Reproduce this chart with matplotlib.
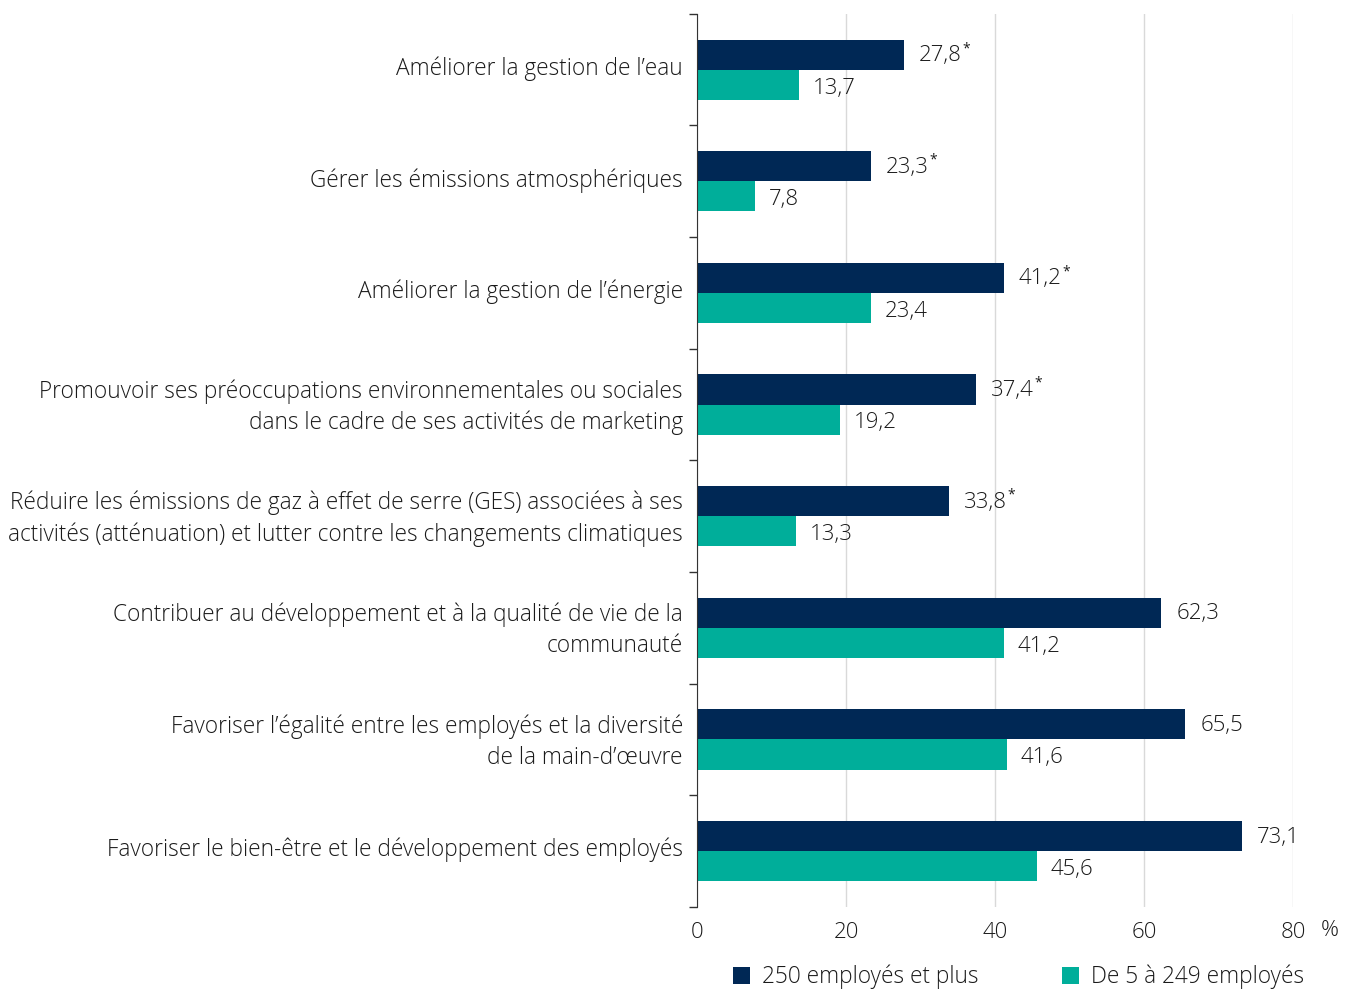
import matplotlib.pyplot as plt
import matplotlib.transforms as mtransforms
import numpy as np

plt.rcParams['font.family'] = ['Open Sans', 'DejaVu Sans']
plt.rcParams['font.weight'] = 'light'

categories = [
    "Améliorer la gestion de l’eau",
    "Gérer les émissions atmosphériques",
    "Améliorer la gestion de l’énergie",
    "Promouvoir ses préoccupations environnementales ou sociales\ndans le cadre de ses activités de marketing",
    "Réduire les émissions de gaz à effet de serre (GES) associées à ses\nactivités (atténuation) et lutter contre les changements climatiques",
    "Contribuer au développement et à la qualité de vie de la\ncommunauté",
    "Favoriser l’égalité entre les employés et la diversité\nde la main-d’œuvre",
    "Favoriser le bien-être et le développement des employés",
]
large = [27.8, 23.3, 41.2, 37.4, 33.8, 62.3, 65.5, 73.1]
small = [13.7, 7.8, 23.4, 19.2, 13.3, 41.2, 41.6, 45.6]
significant = [True, True, True, True, True, False, False, False]
series_names = ["250 employés et plus", "De 5 à 249 employés"]

navy = "#002855"
teal = "#00AE9A"
txt = "#1a1a1a"

fig = plt.figure(figsize=(13.53, 9.9), dpi=100)
ax = fig.add_axes([0.515, 0.084, 0.441, 0.902])

y = np.arange(len(categories))
h = 0.27
b1 = ax.barh(y - h / 2, large, height=h, color=navy, label=series_names[0], zorder=3)
b2 = ax.barh(y + h / 2, small, height=h, color=teal, label=series_names[1], zorder=3)

def fmt(v):
    return f"{v:.1f}".replace(".", ",")

for yi, v, s in zip(y, large, significant):
    t = ax.text(v + 2.0, yi - h / 2 + 0.01, fmt(v), va="center", ha="left", fontsize=16, color=txt)
    if s:
        ax.annotate("*", xy=(1, 1), xycoords=t, xytext=(0.5, 3), textcoords="offset points",
                    ha="left", va="top", fontsize=10, color=txt, fontweight="normal")
for yi, v in zip(y, small):
    ax.text(v + 1.8, yi + h / 2 + 0.03, fmt(v), va="center", ha="left", fontsize=16, color=txt)

ax.set_ylim(len(categories) - 0.5, -0.5)
ax.set_xlim(0, 80)
ax.set_yticks(y)
ax.set_yticklabels(categories, fontsize=16.25, color=txt, ha="right", linespacing=1.4)
ax.tick_params(axis="y", which="major", length=0, pad=10)
shift = mtransforms.ScaledTranslation(0, 4 / 100, fig.dpi_scale_trans)
for lab in ax.get_yticklabels():
    lab.set_transform(lab.get_transform() + shift)
ax.set_yticks(np.arange(-0.5, len(categories)), minor=True)
ax.tick_params(axis="y", which="minor", length=6, width=1, color="#333333", direction="out")

ax.set_xticks([0, 20, 40, 60, 80])
ax.set_xticklabels(["0", "20", "40", "60", "80"], fontsize=16, color=txt)
ax.tick_params(axis="x", length=0, pad=11)
trans = mtransforms.blended_transform_factory(ax.transData, ax.transAxes)
ax.text(83.7, -0.0265, "%", transform=trans, fontsize=16, color=txt,
        ha="left", va="center")

ax.grid(axis="x", color="#d9d9d9", linewidth=1, zorder=0)
for s in ["top", "right", "bottom"]:
    ax.spines[s].set_visible(False)
ax.spines["left"].set_color("#333333")
ax.spines["left"].set_zorder(4)

fig.legend(handles=[b1, b2], labels=series_names, loc="center", ncol=2,
           bbox_to_anchor=(0.753, 0.013), frameon=False, fontsize=16.3,
           handlelength=0.72, handleheight=0.72, handletextpad=0.55, columnspacing=3.7,
           labelcolor=txt)

fig.savefig("out.png", dpi=100)
